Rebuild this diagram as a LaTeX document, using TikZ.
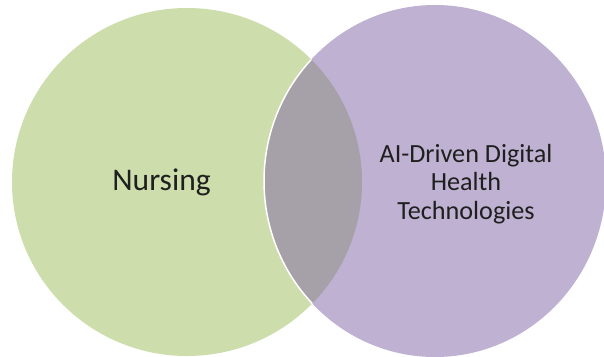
\documentclass[tikz,border=0pt]{standalone}
\usepackage{fontspec}
\setmainfont{Carlito}
\usepackage{xcolor}
\usetikzlibrary{positioning}

\definecolor{nursegreen}{HTML}{CDDDAC}
\definecolor{aipurple}{HTML}{BFB1D1}
\definecolor{overlapgray}{HTML}{A6A1A8}

\begin{document}
\begin{tikzpicture}[x=1pt, y=-1pt,
		set label/.style={text=black!88, align=center, inner sep=0pt},
		big label/.style={set label, font=\fontsize{31.5}{37}\selectfont},
		small label/.style={set label, font=\fontsize{26.2}{28.7}\selectfont}]
		\useasboundingbox (0,0) rectangle (604,356);

		% the two sets
		\fill[nursegreen] (187,182) ellipse [x radius=175, y radius=174];
		\fill[aipurple] (435,181) ellipse [x radius=171, y radius=176];

		% overlap
		\begin{scope}
			\clip (187,182) ellipse [x radius=175, y radius=174];
			\fill[overlapgray] (435,181) ellipse [x radius=171, y radius=176];
			\draw[white, line width=1.5pt] (435,181) ellipse [x radius=171, y radius=176];
		\end{scope}

		\node[big label, anchor=base] (nursing) at (161.5,190) {Nursing};
		\node[small label] (aidht) at (466,184) {AI-Driven Digital\\Health\\Technologies};
	\end{tikzpicture}
\end{document}
